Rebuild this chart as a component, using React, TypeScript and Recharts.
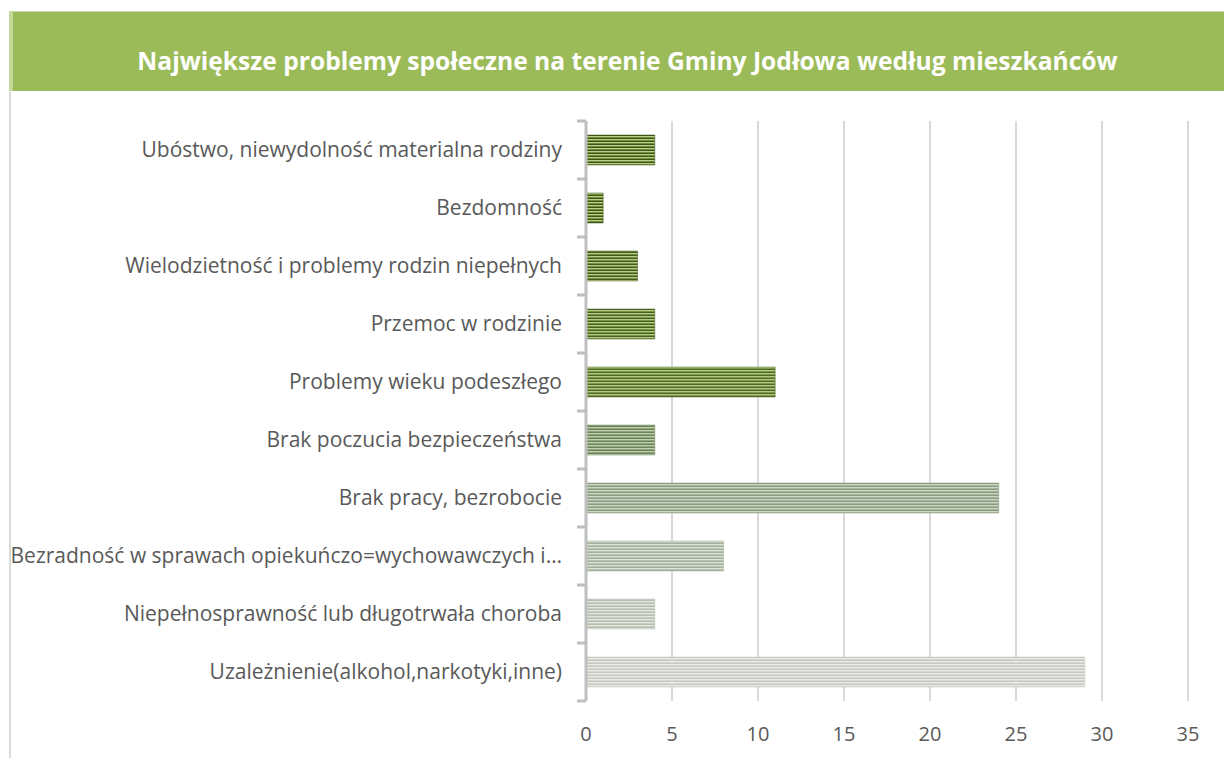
import { BarChart, Bar, XAxis, YAxis, CartesianGrid, Cell } from 'recharts';

const categories = [
  'Ubóstwo, niewydolność materialna rodziny',
  'Bezdomność',
  'Wielodzietność i problemy rodzin niepełnych',
  'Przemoc w rodzinie',
  'Problemy wieku podeszłego',
  'Brak poczucia bezpieczeństwa',
  'Brak pracy, bezrobocie',
  'Bezradność w sprawach opiekuńczo=wychowawczych i…',
  'Niepełnosprawność lub długotrwała choroba',
  'Uzależnienie(alkohol,narkotyki,inne)',
];
const values = [4, 1, 3, 4, 11, 4, 24, 8, 4, 29];
const xTicks = [0, 5, 10, 15, 20, 25, 30, 35];

const data = categories.map((name, i) => ({ name, value: values[i] }));

// stripe colours per bar, top -> bottom: [dark, light, mid]
const STRIPES = [
  ['#3f5518', '#b9cf8e', '#6f8e36'],
  ['#3f5518', '#b9cf8e', '#6f8e36'],
  ['#44591d', '#b6cb8b', '#72903b'],
  ['#48601f', '#b4c988', '#769540'],
  ['#4f6a26', '#b2c788', '#7c9947'],
  ['#6b8455', '#c0cfb0', '#8ea47d'],
  ['#8a9c7f', '#cdd7c6', '#a6b49d'],
  ['#a3b09b', '#dbe2d6', '#b9c3b2'],
  ['#b6beb0', '#e3e7df', '#c7cdc1'],
  ['#c6c9c1', '#e9eae6', '#d5d7d1'],
];

const FONT = '"Open Sans", sans-serif';
const LABEL = '#595959';
const CHART_TOP = 121;
const CHART_BOTTOM = 701;
const BAND = (CHART_BOTTOM - CHART_TOP) / categories.length;

const YTick = (props: any) => {
  const { x, y, payload, index } = props;
  return (
    <g>
      <text x={x - 24} y={y} dy={7} textAnchor="end" fill={LABEL} fontSize={21} fontFamily={FONT}>
        {payload.value}
      </text>
      <line x1={x - 9} x2={x} y1={y - BAND / 2} y2={y - BAND / 2} stroke="#bfbfbf" strokeWidth={3} />
      {index === categories.length - 1 && (
        <line x1={x - 9} x2={x} y1={y + BAND / 2} y2={y + BAND / 2} stroke="#bfbfbf" strokeWidth={3} />
      )}
    </g>
  );
};

export default function App() {
  return (
    <div style={{ position: 'absolute', left: 0, top: 0, width: 1224, height: 758, background: '#fff', overflow: 'hidden' }}>
      <svg width={0} height={0} style={{ position: 'absolute' }}>
        <defs>
          {STRIPES.map((c, i) => (
            <pattern key={i} id={`stripe-${i}`} patternUnits="userSpaceOnUse" width={6} height={3}>
              <rect x={0} y={0} width={6} height={1} fill={c[0]} />
              <rect x={0} y={1} width={6} height={1} fill={c[1]} />
              <rect x={0} y={2} width={6} height={1} fill={c[2]} />
            </pattern>
          ))}
        </defs>
      </svg>
      <div
        style={{
          position: 'absolute',
          left: 9,
          top: 11,
          width: 1215,
          height: 80,
          background: '#9bbb59',
          borderTop: '1px solid #c9dba6',
          borderLeft: '4px solid #c4d99a',
          boxSizing: 'border-box',
          color: '#fff',
          fontFamily: FONT,
          fontWeight: 700,
          fontSize: 24.6,
          display: 'flex',
          alignItems: 'center',
          justifyContent: 'center',
          paddingTop: 18,
          paddingLeft: 18,
          whiteSpace: 'nowrap',
        }}
      >
        Największe problemy społeczne na terenie Gminy Jodłowa według mieszkańców
      </div>
      <div style={{ position: 'absolute', left: 9, top: 92, width: 2, height: 666, background: '#d9d9d9' }} />
      <div style={{ position: 'absolute', left: 0, top: 0 }}>
        <BarChart
          width={1224}
          height={758}
          data={data}
          layout="vertical"
          margin={{ top: CHART_TOP, right: 36, bottom: 758 - CHART_BOTTOM - 40, left: 10 }}
          barSize={30}
        >
          <CartesianGrid horizontal={false} stroke="#d9d9d9" strokeWidth={2} />
          <XAxis
            type="number"
            domain={[0, 35]}
            ticks={xTicks}
            axisLine={false}
            tickLine={false}
            height={40}
            tickMargin={20}
            tick={{ fill: LABEL, fontSize: 20, fontFamily: FONT }}
          />
          <YAxis
            type="category"
            dataKey="name"
            width={576}
            axisLine={{ stroke: '#bfbfbf', strokeWidth: 3 }}
            tickLine={false}
            tickSize={0}
            tickMargin={0}
            interval={0}
            tick={<YTick />}
          />
          <Bar dataKey="value" isAnimationActive={false}>
            {data.map((_, i) => (
              <Cell key={i} fill={`url(#stripe-${i})`} stroke={STRIPES[i][0]} strokeWidth={0.5} />
            ))}
          </Bar>
        </BarChart>
      </div>
    </div>
  );
}
